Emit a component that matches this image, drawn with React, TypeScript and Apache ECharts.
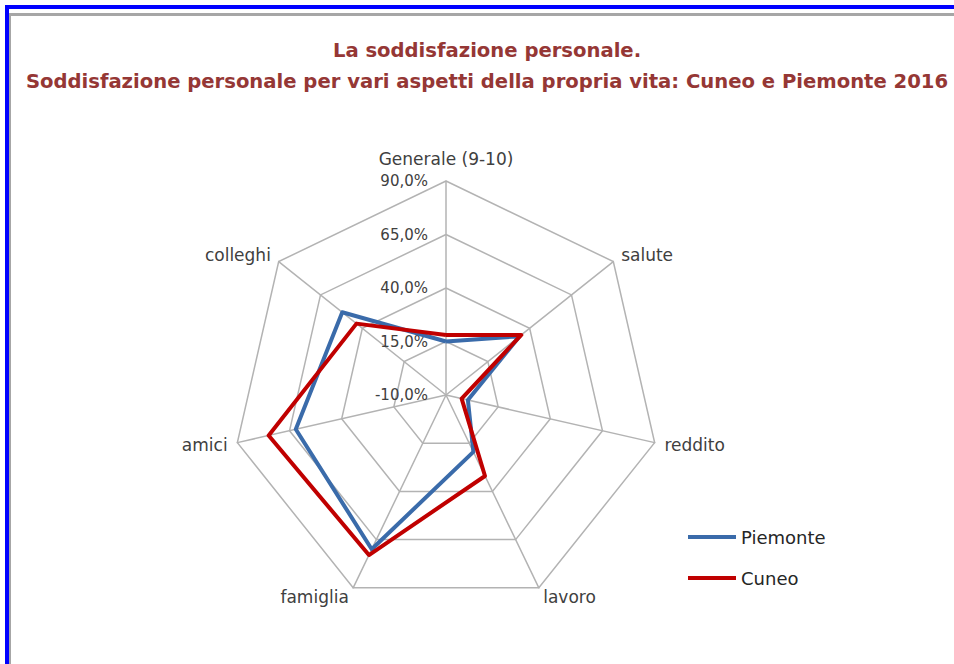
import React, { useEffect, useRef } from "react";
import * as echarts from "echarts";

const titleLines = [
  "La soddisfazione personale.",
  "Soddisfazione personale per vari aspetti della propria vita: Cuneo e Piemonte 2016",
];
// clockwise order starting from the top
const categories = ["Generale (9-10)", "salute", "reddito", "lavoro", "famiglia", "amici", "colleghi"];
const piemonte = [15, 34, 0.5, 19.5, 70, 62, 52];
const cuneo = [18, 35, -2.5, 32, 73, 75, 43.5];
const axisMin = -10;
const axisMax = 90;
const splitNumber = 4;

const FONT = "DejaVu Sans";

export default function App() {
  const ref = useRef<HTMLDivElement>(null);
  useEffect(() => {
    if (!ref.current) return;
    const chart = echarts.init(ref.current, null, { renderer: "svg" });
    const fmt = (v: number) => v.toFixed(1).replace(".", ",") + "%";
    // ECharts radar runs counter-clockwise: map indices so the chart reads clockwise
    const order = categories.map((_, i) => (i === 0 ? 0 : categories.length - i));
    const pick = (arr: number[]) => order.map((i) => arr[i]);
    chart.setOption({
      animation: false,
      backgroundColor: "#ffffff",
      title: {
        text: titleLines.join("\n"),
        left: 482,
        top: 30,
        textAlign: "center",
        textStyle: {
          fontFamily: FONT,
          fontSize: 19.6,
          fontWeight: "bold",
          color: "#953735",
          lineHeight: 31,
        },
      },
      legend: {
        data: ["Piemonte", "Cuneo"],
        orient: "vertical",
        left: 688,
        top: 526,
        padding: 0,
        icon: "rect",
        itemWidth: 48,
        itemHeight: 4,
        itemGap: 19,
        textStyle: { fontFamily: FONT, fontSize: 18, color: "#262626", lineHeight: 22 },
      },
      radar: {
        center: [446, 395],
        radius: 214,
        shape: "polygon",
        startAngle: 90,
        splitNumber,
        nameGap: 10,
        axisName: { color: "#404040", fontFamily: FONT, fontSize: 17 },
        splitLine: { lineStyle: { color: "#b3b3b3", width: 1.5 } },
        splitArea: { show: false },
        axisLine: { lineStyle: { color: "#b3b3b3", width: 1.5 } },
        axisTick: { show: false },
        axisLabel: { show: false },
        indicator: order.map((idx) => ({
          name: categories[idx],
          min: axisMin,
          max: axisMax,
          ...(idx === 0
            ? {
                nameGap: 14,
                axisLabel: {
                  show: true,
                  margin: 18,
                  formatter: fmt,
                  color: "#404040",
                  fontFamily: FONT,
                  fontSize: 15,
                },
              }
            : {}),
        })),
      },
      series: [
        {
          type: "radar",
          symbol: "none",
          data: [
            {
              name: "Piemonte",
              value: pick(piemonte),
              itemStyle: { color: "#3a6baa" },
              lineStyle: { color: "#3a6baa", width: 4 },
            },
            {
              name: "Cuneo",
              value: pick(cuneo),
              itemStyle: { color: "#c00000" },
              lineStyle: { color: "#c00000", width: 4 },
            },
          ],
        },
      ],
      graphic: [
        { type: "rect", shape: { x: 5, y: 5, width: 949, height: 4 }, style: { fill: "#0000ff" }, silent: true },
        { type: "rect", shape: { x: 5, y: 5, width: 4, height: 659 }, style: { fill: "#0000ff" }, silent: true },
        { type: "rect", shape: { x: 9, y: 13, width: 945, height: 3 }, style: { fill: "#a6a6a6" }, silent: true },
        { type: "rect", shape: { x: 9, y: 13, width: 2, height: 651 }, style: { fill: "#a6a6a6" }, silent: true },
      ],
    });
    return () => chart.dispose();
  }, []);
  return (
    <div
      ref={ref}
      style={{ position: "absolute", left: 0, top: 0, width: 954, height: 664 }}
    />
  );
}
